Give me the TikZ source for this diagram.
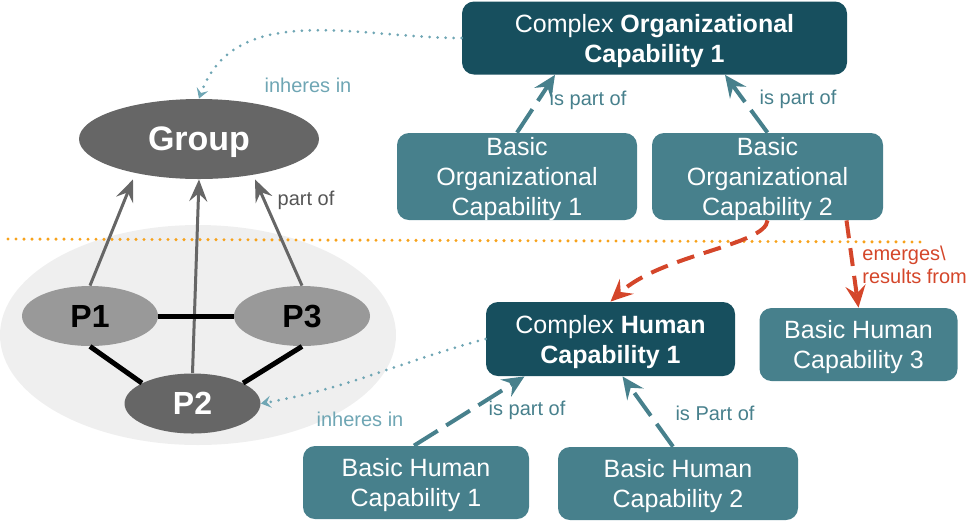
\documentclass[tikz,border=0pt]{standalone}
\usepackage{fontspec}
\setmainfont{Liberation Sans}
\usepackage{xcolor}
\usepackage{tikz}
\usetikzlibrary{arrows.meta, shapes.geometric}
\definecolor{capdark}{HTML}{174F5E}
\definecolor{capmid}{HTML}{47808C}
\definecolor{capsoft}{HTML}{6FA6B4}
\definecolor{emred}{HTML}{D4462A}
\definecolor{seporange}{HTML}{F7A21B}
\definecolor{grpdark}{HTML}{666666}
\definecolor{grplight}{HTML}{999999}
\definecolor{grpback}{HTML}{EFEFEF}
\definecolor{partgray}{HTML}{555555}

\begin{document}
\begin{tikzpicture}[
  x=0.5pt, y=-0.5pt,
  every node/.style={font=\fontsize{12.5}{15}\selectfont},
  capbox/.style={
    rounded corners=6pt, text=white, align=center, inner sep=0pt, text depth=0pt
  },
  complexcap/.style={capbox, fill=capdark},
  basiccap/.style={capbox, fill=capmid},
  person/.style={
    ellipse, minimum width=68pt, minimum height=30pt, inner sep=0pt,
    font=\fontsize{16}{16}\selectfont\bfseries
  },
  rel/.style={font=\fontsize{10}{11.5}\selectfont},
  partarrow/.style={-{Stealth[length=11pt,width=9pt,inset=4pt]}, line width=1.5pt, draw=grpdark},
  isarrow/.style={-{Stealth[length=11pt,width=10pt,inset=4pt]}, line width=2pt, draw=capmid,
    dash pattern=on 14pt off 5pt},
  emarrow/.style={-{Stealth[length=11pt,width=10pt,inset=4pt]}, line width=2pt, draw=emred,
    dash pattern=on 9pt off 5pt},
  inheres/.style={-{Stealth[length=5pt,width=6pt,inset=2pt]}, line width=1.5pt, draw=capsoft,
    line cap=round, dash pattern=on 0pt off 4pt},
  tie/.style={line width=2.5pt, black},
  sepline/.style={line width=1.7pt, draw=seporange, line cap=round, dash pattern=on 0pt off 4pt},
]
\useasboundingbox (0,0) rectangle (969,521);

% Group side
\node[ellipse, fill=grpback, minimum width=198pt, minimum height=110pt] (team) at (198,335) {};
\coordinate (sepL) at (8,239);
\coordinate (sepR) at (923,242);
\draw[sepline] (sepL) -- (sepR);

\node[ellipse, fill=grpdark, text=white, minimum width=120pt, minimum height=40pt,
  inner sep=0pt, text depth=0pt, font=\fontsize{17}{17}\selectfont\bfseries] (group) at (199,139) {Group};
\node[person, fill=grplight, text=black] (p1) at (90,316) {P1};
\node[person, fill=grplight, text=black] (p3) at (302,316) {P3};
\node[person, fill=grpdark, text=white] (p2) at (192.5,403.5) {P2};

\draw[partarrow] (p1.north) -- ([xshift=-33pt]group.south);
\draw[partarrow] (p2.north) -- (group.south);
\draw[partarrow] (p3.north) -- ([xshift=28pt]group.south);
\draw[tie] (p1.east) -- (p3.west);
\draw[tie] (p1.south) -- (p2.158);
\draw[tie] (p3.south) -- (p2.22);

% Capabilities
\node[complexcap, minimum width=192.5pt, minimum height=36.5pt] (co) at (654.5,38) {%
  Complex \textbf{Organizational}\\\textbf{Capability 1}};
\node[basiccap, minimum width=120pt, minimum height=43.5pt] (bo1) at (517,176.5) {%
  Basic\\Organizational\\Capability 1};
\node[basiccap, minimum width=115.5pt, minimum height=43.5pt] (bo2) at (767.5,176.5) {%
  Basic\\Organizational\\Capability 2};
\node[complexcap, minimum width=124.5pt, minimum height=37pt] (ch) at (610.5,339) {%
  Complex \textbf{Human}\\\textbf{Capability 1}};
\node[basiccap, minimum width=99pt, minimum height=36.5pt] (bh3) at (858.5,344.5) {%
  Basic Human\\Capability 3};
\node[basiccap, minimum width=113pt, minimum height=36.5pt] (bh1) at (416,482.5) {%
  Basic Human\\Capability 1};
\node[basiccap, minimum width=120pt, minimum height=36.5pt] (bh2) at (678,483.5) {%
  Basic Human\\Capability 2};

% Relations
\draw[isarrow] (bo1.north) -- ([xshift=-49.75pt]co.south);
\draw[isarrow] (bo2.north) -- ([xshift=35.25pt]co.south);
\draw[isarrow] ([xshift=-1pt]bh1.north) -- ([xshift=-43pt]ch.south);
\draw[isarrow] ([xshift=-2.5pt]bh2.north) -- ([xshift=6pt]ch.south);
\draw[emarrow] (bo2.south) .. controls +(-2,25) and +(50,-47) .. (ch.north);
\draw[emarrow] ([xshift=39.5pt]bo2.south) -- (bh3.north);
\draw[inheres] (co.west) to[out=180, in=70] (group.north);
\draw[inheres] (ch.west) to[out=195, in=10] (p2.east);

% Labels
\node[rel, text=capsoft] (inh1) at (308,85) {inheres in};
\node[rel, text=partgray] (partof) at (306,200) {part of};
\node[rel, text=capmid] (ipo1) at (588,100) {is part of};
\node[rel, text=capmid] (ipo2) at (798,99) {is part of};
\node[rel, text=capmid] (ipo3) at (527,410) {is part of};
\node[rel, text=capmid] (ipo4) at (715,413) {is Part of};
\node[rel, text=capsoft] (inh2) at (360,419) {inheres in};
\node[rel, text=emred, align=left, anchor=west, inner sep=0pt] (emg) at (862,265) {emerges\textbackslash\\results from};

\end{tikzpicture}
\end{document}
